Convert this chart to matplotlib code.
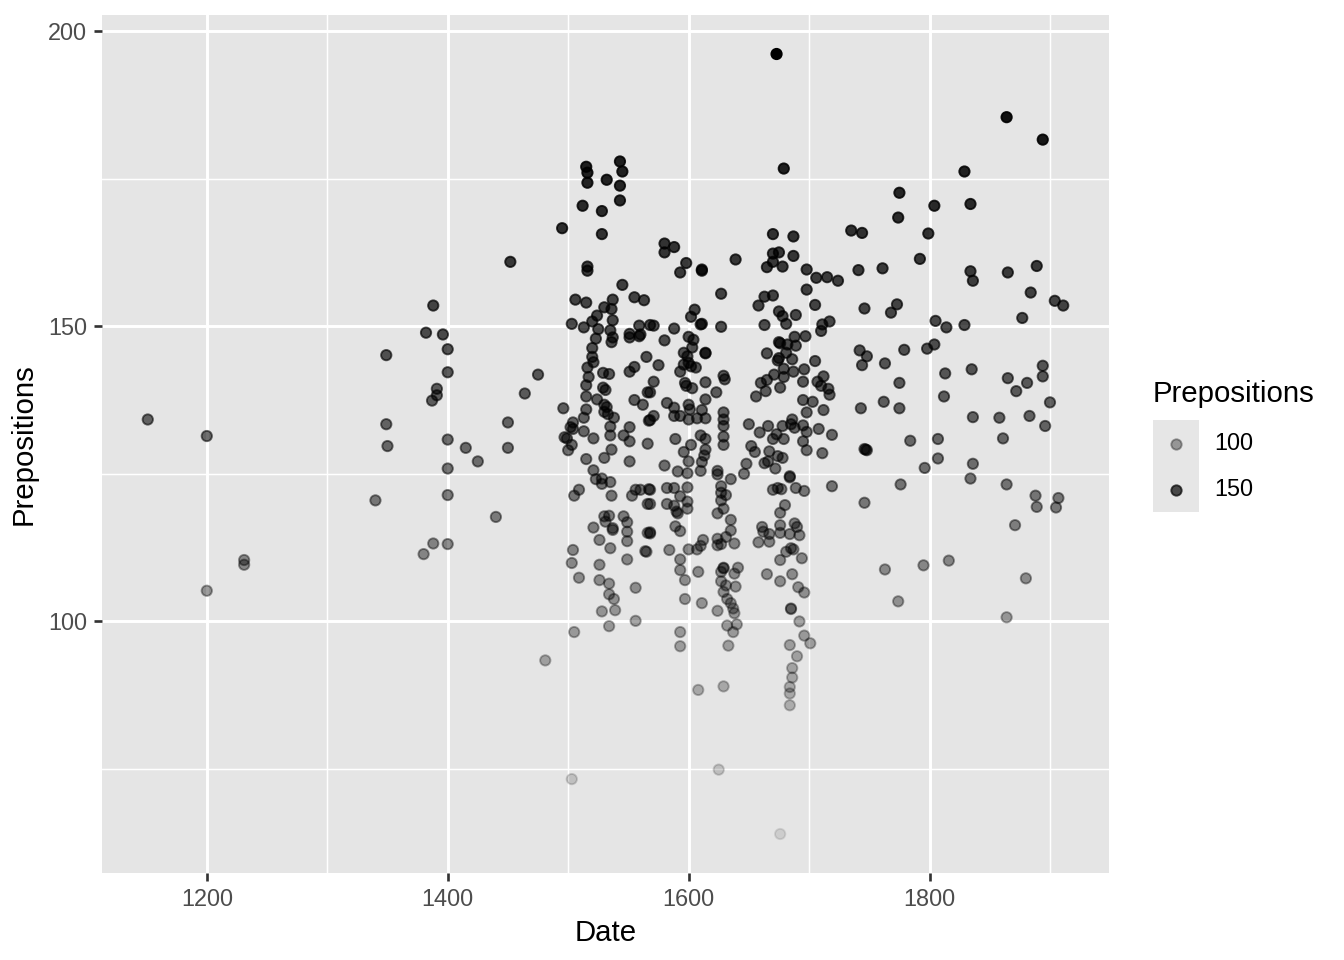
import numpy as np
import matplotlib.pyplot as plt
from matplotlib.patches import Rectangle
from matplotlib.lines import Line2D

# values, grouped roughly by region of the plot
date = [
    1151, 1200, 1200, 1231, 1231, 1340, 1349, 1349, 1350, 1380,
    1382, 1388, 1388, 1391, 1391, 1387, 1396, 1400, 1400, 1400,
    1400, 1400, 1400, 1415, 1425, 1440, 1450, 1450, 1452, 1464,
    1475, 1481, 1495, 1499, 1500, 1502, 1496, 1503, 1504, 1503,
    1505, 1505, 1506, 1503,
    # 1510-1570, upper
    1515, 1516, 1516, 1543, 1545, 1532, 1543, 1543, 1512, 1528,
    1528, 1516, 1516, 1545, 1515, 1537, 1555, 1563, 1530, 1536,
    1524, 1520, 1537, 1513, 1525, 1535, 1537, 1536, 1551, 1551,
    1559, 1559, 1568, 1523, 1520, 1520, 1521, 1516, 1565, 1555,
    1551, 1517, 1515, 1529, 1534, 1529, 1531, 1515, 1524, 1555,
    1562, 1566, 1515, 1530, 1532, 1530,
    # 1500-1570, lower
    1533, 1538, 1513, 1504, 1504, 1513, 1497, 1521, 1503, 1535,
    1535, 1551, 1546, 1551, 1567, 1566, 1536, 1515, 1530, 1551,
    1521, 1523, 1528, 1528, 1535, 1509, 1536, 1556, 1553, 1567,
    1566, 1530, 1534, 1531, 1521, 1537, 1537, 1546, 1549, 1549,
    1549, 1566, 1526, 1535, 1526, 1509, 1526, 1534, 1534, 1538,
    1564, 1549, 1556, 1528, 1539, 1534, 1556,
    # 1570-1640, upper
    1580, 1588, 1580, 1598, 1593, 1611, 1611, 1639, 1627, 1605,
    1602, 1610, 1611, 1627, 1560, 1571, 1588, 1580, 1600, 1604,
    1603, 1614, 1614, 1575, 1596, 1599, 1600, 1602, 1606, 1596,
    1593, 1571, 1568, 1597, 1598, 1603, 1614, 1623, 1614, 1629,
    1630, 1582, 1588, 1600, 1601, 1611, 1571, 1568, 1588, 1593,
    1600, 1607, 1614, 1629, 1629,
    # 1560-1640, lower
    1589, 1602, 1596, 1600, 1610, 1614, 1614, 1613, 1611, 1610,
    1629, 1629, 1629, 1580, 1591, 1599, 1560, 1568, 1568, 1582,
    1588, 1593, 1599, 1599, 1599, 1582, 1588, 1590, 1591, 1624,
    1624, 1635, 1627, 1627, 1631, 1627, 1629, 1624, 1635, 1635,
    1568, 1568, 1589, 1593, 1565, 1584, 1600, 1607, 1610, 1612,
    1593, 1593, 1597, 1608, 1624, 1627, 1624, 1631, 1638, 1629,
    1629, 1627, 1627, 1631, 1638, 1639, 1641, 1629, 1632, 1635,
    1637, 1638, 1624, 1597, 1611, 1632, 1637, 1633, 1640, 1593,
    1593, 1608, 1629, 1625,
    # 1650-1725, upper
    1673, 1679, 1670, 1687, 1670, 1675, 1687, 1670, 1665, 1678,
    1698, 1706, 1715, 1724, 1698, 1663, 1670, 1658, 1705, 1675,
    1678, 1681, 1689, 1663, 1711, 1717, 1710, 1675, 1676, 1682,
    1689, 1688, 1697, 1665, 1675, 1674, 1681, 1686, 1705, 1679,
    1679, 1687, 1696, 1671, 1665, 1695, 1707, 1712, 1710, 1716,
    1717, 1660, 1664, 1656, 1676, 1695, 1703, 1712, 1698, 1686,
    # 1645-1720, lower
    1650, 1659, 1666, 1678, 1685, 1688, 1695, 1698, 1708, 1719,
    1670, 1673, 1679, 1695, 1698, 1711, 1652, 1655, 1667, 1666,
    1674, 1678, 1663, 1672, 1648, 1646, 1684, 1684, 1719, 1670,
    1674, 1677, 1689, 1696, 1680, 1676, 1661, 1662, 1667, 1658,
    1667, 1676, 1676, 1684, 1688, 1690, 1692, 1685, 1681, 1687,
    1676, 1694, 1665, 1676, 1686, 1691, 1696, 1685, 1685, 1692,
    1696, 1701, 1684, 1690, 1686, 1686, 1684, 1684, 1684, 1676,
    # 1730-1915, upper
    1864, 1894, 1829, 1775, 1804, 1834, 1774, 1735, 1744, 1799,
    1792, 1741, 1761, 1834, 1836, 1865, 1889, 1884, 1904, 1911,
    1746, 1773, 1768, 1805, 1814, 1829, 1877,
    # 1740-1910, lower
    1742, 1748, 1744, 1763, 1779, 1798, 1804, 1813, 1835, 1775,
    1812, 1743, 1762, 1775, 1836, 1858, 1883, 1896, 1900, 1865,
    1872, 1881, 1894, 1894, 1747, 1748, 1746, 1784, 1807, 1807,
    1796, 1836, 1834, 1861, 1776, 1864, 1746, 1888, 1889, 1907,
    1905, 1871, 1763, 1795, 1816, 1880, 1774, 1864,
]

prepositions = [
    134.2, 131.4, 105.2, 110.4, 109.6, 120.5, 145.1, 133.4, 129.7, 111.4,
    148.9, 113.2, 153.5, 139.4, 138.3, 137.4, 148.6, 146.1, 142.2, 130.8,
    125.9, 121.4, 113.1, 129.4, 127.1, 117.7, 129.4, 133.7, 160.9, 138.6,
    141.8, 93.4, 166.6, 131.0, 129.0, 132.9, 136.1, 73.3, 112.1, 109.9,
    98.2, 121.3, 154.5, 150.4,
    # 1510-1570, upper
    177.0, 176.0, 174.3, 177.9, 176.2, 174.8, 173.8, 171.3, 170.4, 169.5,
    165.6, 160.1, 159.4, 157.0, 154.0, 154.5, 154.9, 154.4, 153.2, 152.9,
    151.8, 150.8, 151.0, 149.8, 149.5, 149.3, 148.1, 147.3, 148.7, 148.1,
    150.1, 148.3, 150.2, 147.9, 146.3, 144.8, 143.9, 143.0, 144.8, 143.1,
    142.3, 141.4, 140.0, 142.1, 141.9, 139.6, 139.2, 138.1, 137.6, 137.5,
    136.7, 138.8, 135.9, 136.7, 136.3, 135.5,
    # 1500-1570, lower
    135.1, 134.5, 134.5, 133.7, 132.6, 132.2, 131.2, 131.0, 129.9, 133.0,
    131.5, 132.9, 131.5, 130.5, 134.0, 130.1, 129.1, 127.5, 127.7, 127.1,
    125.6, 124.1, 124.2, 123.3, 123.6, 122.3, 121.3, 122.3, 121.3, 122.4,
    119.9, 117.8, 117.9, 116.9, 115.9, 115.8, 115.5, 117.8, 116.8, 115.2,
    113.6, 115.0, 113.8, 112.4, 109.6, 107.4, 107.0, 106.4, 104.6, 103.8,
    111.9, 110.5, 105.7, 101.7, 101.9, 99.2, 100.1,
    # 1570-1640, upper
    164.0, 163.4, 162.5, 160.7, 159.1, 159.6, 159.4, 161.3, 155.5, 152.8,
    151.6, 150.3, 150.4, 149.9, 148.6, 150.1, 149.6, 147.6, 148.2, 147.7,
    146.4, 145.5, 145.4, 143.4, 145.5, 144.9, 143.8, 143.2, 143.0, 143.5,
    142.3, 140.6, 138.8, 140.4, 139.9, 139.5, 140.5, 138.8, 137.6, 141.6,
    141.0, 137.0, 136.2, 136.7, 135.9, 135.8, 134.8, 134.1, 134.8, 134.8,
    134.2, 134.4, 134.4, 135.4, 134.2,
    # 1560-1640, lower
    130.9, 129.9, 128.7, 127.1, 131.5, 130.9, 129.1, 128.1, 127.0, 125.5,
    133.1, 131.3, 129.9, 126.4, 125.4, 125.1, 122.3, 122.3, 119.9, 122.6,
    122.6, 121.2, 122.7, 120.3, 119.1, 119.9, 119.6, 118.6, 118.3, 125.5,
    124.9, 124.1, 122.9, 121.8, 121.4, 120.5, 119.1, 118.3, 117.2, 115.4,
    115.1, 114.9, 116.1, 115.3, 111.8, 112.1, 112.2, 112.2, 112.8, 113.8,
    110.5, 108.7, 107.0, 108.4, 114.0, 113.1, 112.9, 114.3, 113.2, 109.1,
    109.0, 108.4, 106.8, 106.1, 108.1, 105.9, 109.1, 105.0, 103.8, 103.1,
    102.2, 101.4, 101.8, 103.8, 103.1, 99.3, 98.2, 95.9, 99.5, 98.2,
    95.8, 88.4, 89.0, 74.9,
    # 1650-1725, upper
    196.1, 176.7, 165.6, 165.2, 162.3, 162.5, 161.9, 160.9, 160.0, 160.1,
    159.6, 158.2, 158.3, 157.7, 156.2, 155.0, 155.2, 153.5, 153.6, 152.5,
    151.7, 150.4, 151.9, 150.2, 150.3, 150.8, 149.2, 147.3, 147.1, 146.9,
    146.7, 148.2, 148.3, 145.4, 144.6, 144.2, 145.5, 144.4, 144.1, 142.8,
    141.4, 142.3, 142.7, 141.8, 140.9, 140.6, 140.6, 141.5, 139.9, 139.4,
    138.4, 140.4, 139.0, 138.1, 139.6, 137.5, 137.2, 135.8, 135.4, 134.2,
    # 1645-1720, lower
    133.4, 132.0, 133.1, 133.1, 133.4, 132.8, 133.2, 132.1, 132.6, 131.6,
    130.9, 131.7, 130.9, 130.5, 129.0, 128.5, 129.7, 128.7, 128.8, 127.1,
    128.0, 127.7, 126.8, 125.9, 126.7, 125.0, 124.6, 124.4, 122.9, 122.3,
    122.6, 122.4, 122.6, 122.1, 119.7, 118.4, 116.0, 115.2, 114.8, 113.4,
    113.5, 116.3, 115.0, 114.8, 116.6, 116.0, 114.6, 112.4, 111.8, 112.2,
    110.4, 110.7, 108.0, 106.8, 108.0, 105.8, 104.9, 102.2, 102.1, 100.0,
    97.6, 96.3, 96.0, 94.1, 92.1, 90.5, 88.9, 87.8, 85.8, 64.0,
    # 1730-1915, upper
    185.4, 181.6, 176.2, 172.6, 170.4, 170.7, 168.4, 166.2, 165.8, 165.7,
    161.4, 159.5, 159.8, 159.3, 157.7, 159.1, 160.2, 155.7, 154.3, 153.5,
    153.0, 153.7, 152.3, 150.9, 149.8, 150.2, 151.4,
    # 1740-1910, lower
    145.9, 144.9, 143.4, 143.7, 146.0, 146.2, 146.9, 142.0, 142.7, 140.4,
    138.1, 136.1, 137.2, 136.1, 134.6, 134.5, 134.8, 133.1, 137.1, 141.2,
    139.0, 140.4, 143.3, 141.5, 129.1, 129.0, 129.2, 130.6, 130.9, 127.6,
    126.0, 126.7, 124.2, 131.0, 123.2, 123.2, 120.1, 121.3, 119.4, 120.9,
    119.3, 116.3, 108.8, 109.5, 110.3, 107.3, 103.4, 100.7,
]

legend_breaks = [100, 150]
x_major = [1200, 1400, 1600, 1800]
x_minor = [1300, 1500, 1700, 1900]
y_major = [100, 150, 200]
y_minor = [75, 125, 175]

plt.rcParams['font.family'] = ['Liberation Sans', 'DejaVu Sans']

x = np.array(date, dtype=float)
y = np.array(prepositions, dtype=float)
lo, hi = y.min(), y.max()


def to_alpha(v):
    # ggplot scale_alpha: range 0.1 .. 1 over the data limits
    return 0.1 + 0.9 * (np.asarray(v) - lo) / (hi - lo)


W, H = 1344, 960
fig = plt.figure(figsize=(7, 5), dpi=192)
ax = fig.add_axes([102 / W, 1 - 873 / H, (1109 - 102) / W, (873 - 15) / H])
ax.set_facecolor('#E5E5E5')

rgba = np.zeros((len(x), 4))
rgba[:, 3] = to_alpha(y)
ax.scatter(x, y, s=15, c=rgba, edgecolors=rgba, linewidths=0.7, zorder=3)

dx = (x.max() - x.min()) * 0.05
dy = (y.max() - y.min()) * 0.05
ax.set_xlim(x.min() - dx, x.max() + dx)
ax.set_ylim(y.min() - dy, y.max() + dy)

ax.set_xticks(x_major)
ax.set_xticks(x_minor, minor=True)
ax.set_yticks(y_major)
ax.set_yticks(y_minor, minor=True)
ax.grid(which='major', color='white', lw=1.1, zorder=0)
ax.grid(which='minor', color='white', lw=0.55, zorder=0)
ax.set_axisbelow(True)
for s in ax.spines.values():
    s.set_visible(False)
ax.tick_params(which='major', length=3, width=1.0, color='#333333',
               labelcolor='#4D4D4D', labelsize=8.8, pad=2.5)
ax.tick_params(which='minor', length=0)

ax.set_xlabel('Date', fontsize=11, labelpad=3)
ax.set_ylabel('Prepositions', fontsize=11, labelpad=4)

# legend drawn by hand, ggplot style
fig.text(1153 / W, 1 - 394 / H, 'Prepositions', fontsize=11, va='center', ha='left')
fig.add_artist(Rectangle((1153 / W, 1 - 512 / H), 46 / W, 92 / H,
                         transform=fig.transFigure, facecolor='#E6E6E6',
                         edgecolor='none'))
for i, b in enumerate(legend_breaks):
    yy = 1 - (444 + 46 * i) / H
    a = float(to_alpha(b))
    fig.add_artist(Line2D([1176 / W], [yy], transform=fig.transFigure,
                          marker='o', markersize=3.9, linestyle='none',
                          markerfacecolor=(0, 0, 0, a),
                          markeredgecolor=(0, 0, 0, a), markeredgewidth=0.7))
    fig.text(1214 / W, yy, str(b), fontsize=8.8, va='center', ha='left')

fig.savefig('out.png', dpi=192)
